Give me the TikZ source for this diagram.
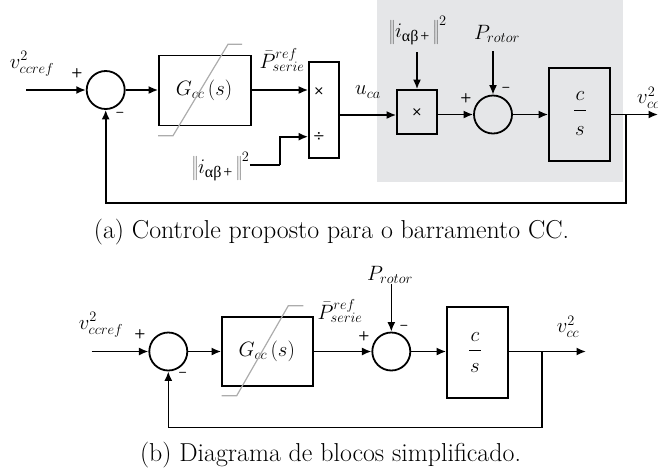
\documentclass[tikz,border=0pt]{standalone}
\usepackage{fontspec}
\newfontfamily\grk{Liberation Serif}
\usetikzlibrary{arrows.meta}
\definecolor{bgray}{RGB}{229,230,232}
\definecolor{satgray}{RGB}{172,172,172}
\newcommand{\iabnorm}{$\left\|\rule[-8pt]{0pt}{24pt}i_{\mbox{\fontsize{16}{16}\selectfont\grk αβ\kern2pt+}}\,\right\|^{2}$}
\begin{document}
\begin{tikzpicture}[x=1pt,y=-1pt,
  lab/.style={font=\fontsize{20.74}{25}\selectfont, inner sep=0pt},
  blk/.style={draw, line width=1.8pt, inner sep=0pt},
  sumn/.style={draw, circle, line width=1.8pt, minimum size=38pt, inner sep=0pt},
  arr/.style={line width=1.6pt, -{Latex[length=9.5pt,width=8pt]}},
  wire/.style={line width=1.6pt},
  sgn/.style={font=\fontsize{13}{13}\selectfont\sffamily\bfseries, inner sep=0pt},
  sat/.style={draw=satgray, line width=1.2pt},
  captext/.style={font=\fontsize{25.9}{30}\selectfont, anchor=base, inner sep=0pt}]
\useasboundingbox (0,0) rectangle (658,475);
\clip (0,0) rectangle (658,475);

% ---------------- (a) ----------------
\fill[bgray] (377,0) rectangle (623,182);

\node[lab] (vref1) at (32,64) {$v^{2}_{ccref}$};
\coordinate (in1) at (26,90);
\node[sumn] (s1) at (105.7,90) {};
\node[sgn] (p1) at (77,73) {+};
\node[sgn] (m1) at (120,114) {–};
\node[blk, minimum width=92pt, minimum height=70pt] (G1) at (205,90.5) {};
\node[lab] (G1t) at (204,90.5) {$G_{cc}\,(s)$};
\node[lab] (Pser1) at (282,60) {$\bar{P}^{ref}_{serie}$};
\node[blk, minimum width=30pt, minimum height=96pt] (M) at (324,110) {};
\node[sgn] (mx) at (319,91) {×};
\node[sgn] (dv) at (319,136.7) {÷};
\node[lab] (ia1) at (221,167) {\iabnorm};
\coordinate (st1) at (280,165);
\node[lab] (uca) at (368,92) {$u_{ca}$};
\node[blk, minimum width=40pt, minimum height=44pt] (P) at (417,112) {};
\node[sgn] (px) at (417,112) {×};
\node[lab] (ia2) at (418,31) {\iabnorm};
\node[sumn] (s2) at (493,114.5) {};
\node[sgn] (p2) at (466,98) {+};
\node[sgn] (m2) at (506,89) {–};
\node[lab] (pr1) at (497,33.5) {$P_{rotor}$};
\node[blk, minimum width=61pt, minimum height=93pt] (cs1) at (579.5,114.5) {};
\node[lab] (c1) at (580,96) {$c$};
\node[lab] (d1) at (580,131.5) {$s$};
\draw[line width=1.2pt] (574,110.5) -- (586,110.5);
\node[lab, anchor=west] (vcc1) at (637,98) {$v^{2}_{cc}$};
\coordinate (out1) at (658,114.5);
\coordinate (br1) at (626,114.5);
\coordinate (fb1) at (105.7,203);

\draw[arr] (in1) -- (s1.west);
\draw[arr] (s1.east) -- (s1.east -| G1.west);
\draw[arr] (G1.east |- s1.east) -- (s1.east -| M.west);
\draw[wire] (ia1.east |- st1) -- (st1);
\draw[arr] (st1) |- (dv -| M.west);
\draw[arr] (M.east |- 0,115) -- (P.west |- 0,115);
\draw[arr] (P.north |- 0,52) -- (P.north);
\draw[arr] (P.east |- s2.west) -- (s2.west);
\draw[arr] (s2.north |- 0,51) -- (s2.north);
\draw[arr] (s2.east) -- (cs1.west |- s2.east);
\draw[arr] (cs1.east |- out1) -- (out1);
\draw[arr] (br1) |- (fb1) -- (s1.south);
\draw[sat] (158,135.7) -- (173,135.7) -- (228,44.3) -- (242,44.3);

\node[captext] (capa) at (331.5,238) {(a) Controle proposto para o barramento CC.};

% ---------------- (b) ----------------
\node[lab] (vref2) at (101,325) {$v^{2}_{ccref}$};
\coordinate (in2) at (91.7,351.5);
\node[sumn] (s3) at (168.3,351.5) {};
\node[sgn] (p3) at (140,334) {+};
\node[sgn] (m3) at (182.7,374) {–};
\node[blk, minimum width=91pt, minimum height=69pt] (G2) at (267.5,351.5) {};
\node[lab] (G2t) at (266.7,351.5) {$G_{cc}\,(s)$};
\node[lab] (Pser2) at (340,311) {$\bar{P}^{ref}_{serie}$};
\node[sumn] (s4) at (391.3,351.5) {};
\node[sgn] (p4) at (364,336) {+};
\node[sgn] (m4) at (404,327) {–};
\node[lab] (pr2) at (390,275) {$P_{rotor}$};
\node[blk, minimum width=61pt, minimum height=91pt] (cs2) at (477.5,352.5) {};
\node[lab] (c2) at (475,337) {$c$};
\node[lab] (d2) at (475,368) {$s$};
\draw[line width=1.2pt] (469,350.7) -- (481,350.7);
\node[lab] (vcc2) at (568,327) {$v^{2}_{cc}$};
\coordinate (out2) at (586,351.5);
\coordinate (br2) at (541.7,351.5);
\coordinate (fb2) at (168.3,427.5);

\draw[arr] (in2) -- (s3.west);
\draw[arr] (s3.east) -- (G2.west |- s3.east);
\draw[arr] (G2.east |- s4.west) -- (s4.west);
\draw[arr] (s4.north |- pr2.south) -- (s4.north);
\draw[arr] (s4.east) -- (cs2.west |- s4.east);
\draw[arr] (cs2.east |- out2) -- (out2);
\draw[arr] (br2) |- (fb2) -- (s3.south);
\draw[sat] (221.7,395.7) -- (236.7,395.7) -- (288.3,305.7) -- (303.3,305.7);

\node[captext] (capb) at (330.5,461) {(b) Diagrama de blocos simplificado.};
\end{tikzpicture}
\end{document}
